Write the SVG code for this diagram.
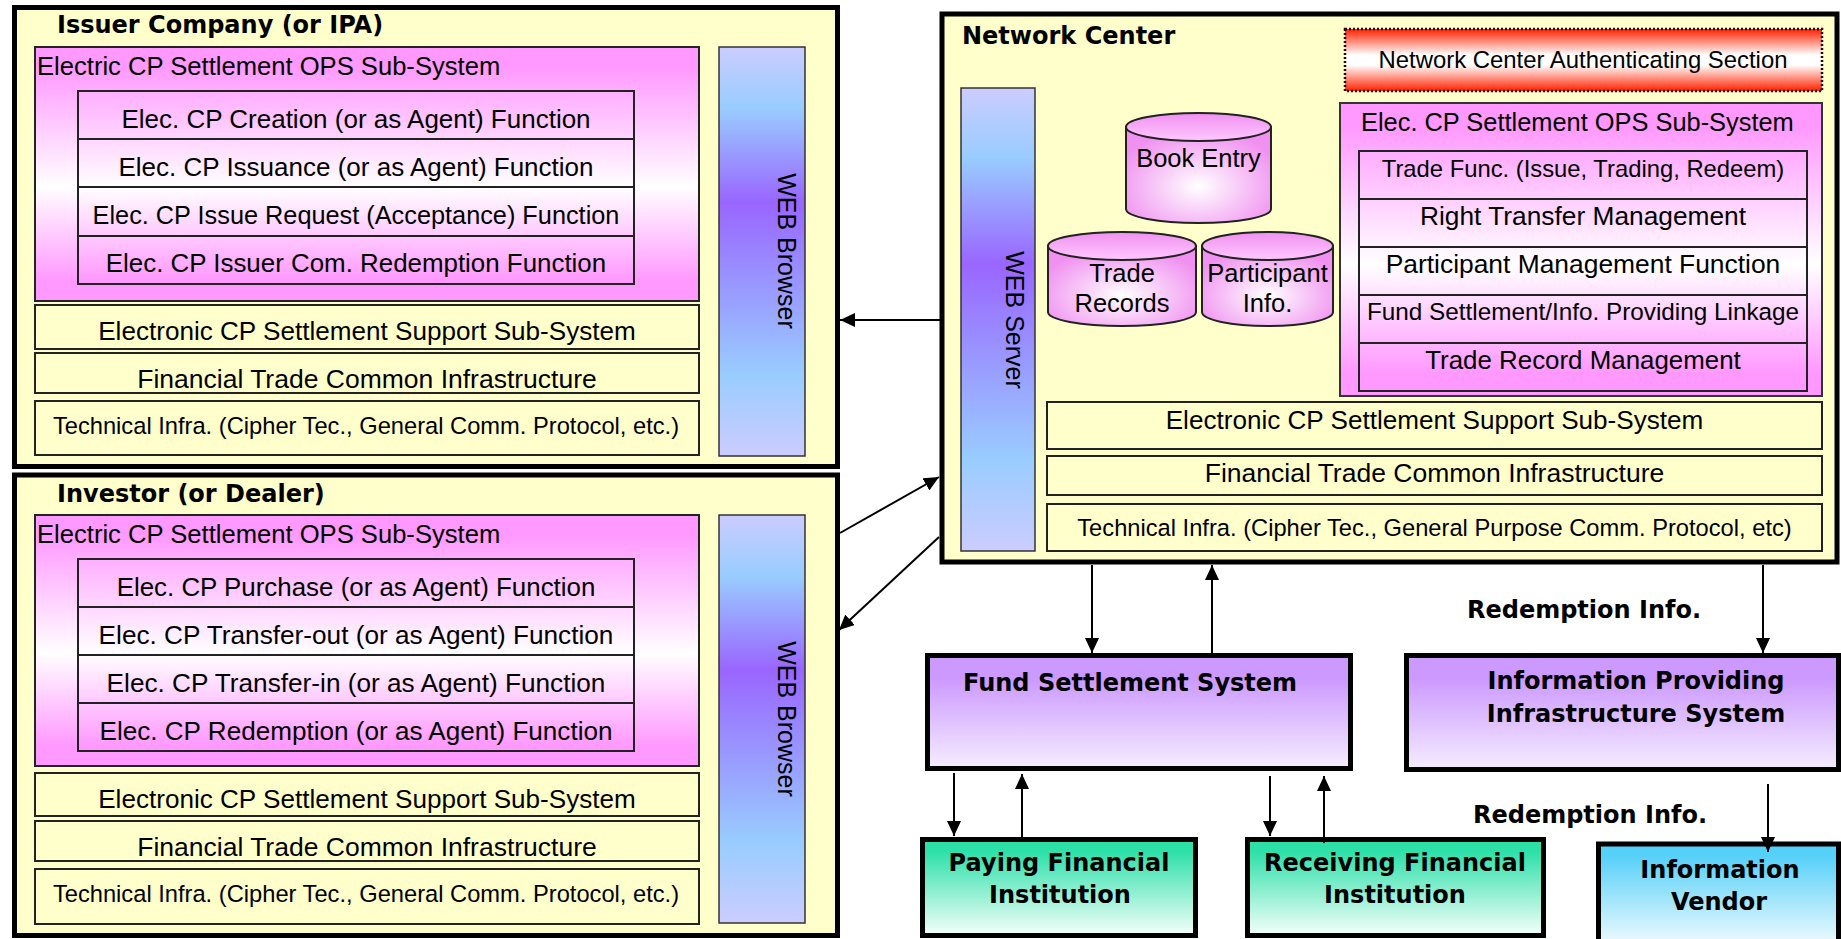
<svg xmlns="http://www.w3.org/2000/svg" width="1841" height="939" viewBox="0 0 1841 939">
<defs>
<style>
.yb{fill:#ffffcc;stroke:#000;stroke-width:5}
.ib{fill:#ffffcc;stroke:#222;stroke-width:2}
.tb{fill:none;stroke:#222;stroke-width:2}
.sep{fill:none;stroke:#222;stroke-width:2}
.t{font-family:"Liberation Sans",Arial,sans-serif;fill:#000}
.b{font-family:"DejaVu Sans","Liberation Sans",sans-serif;font-weight:bold;font-size:24px;fill:#000}
.m{text-anchor:middle}
.bar{stroke:#333;stroke-width:1.5;fill:url(#barV)}
.cyl{stroke:#222;stroke-width:2}
.bx{stroke:#000;stroke-width:5}
.cn{stroke:#000;stroke-width:2;fill:none}
</style>
<linearGradient id="pinkV" x1="0" y1="0" x2="0" y2="1">
<stop offset="0" stop-color="#ff99ff"/><stop offset="0.08" stop-color="#ff99ff"/><stop offset="0.55" stop-color="#ffffff"/><stop offset="0.92" stop-color="#ff99ff"/><stop offset="1" stop-color="#ff99ff"/>
</linearGradient>
<linearGradient id="barV" x1="0" y1="0" x2="0" y2="1">
<stop offset="0" stop-color="#ccccff"/><stop offset="0.15" stop-color="#99ccff"/><stop offset="0.38" stop-color="#9966ff"/><stop offset="0.8" stop-color="#99ccff"/><stop offset="1" stop-color="#ccccff"/>
</linearGradient>
<linearGradient id="redV" x1="0" y1="0" x2="0" y2="1">
<stop offset="0" stop-color="#ff2200"/><stop offset="0.42" stop-color="#ffffff"/><stop offset="0.58" stop-color="#ffffff"/><stop offset="1" stop-color="#ff2200"/>
</linearGradient>
<linearGradient id="purV" x1="0" y1="0" x2="0" y2="1">
<stop offset="0" stop-color="#cc99ff"/><stop offset="0.2" stop-color="#cc99ff"/><stop offset="1" stop-color="#f5edff"/>
</linearGradient>
<linearGradient id="grnV" x1="0" y1="0" x2="0" y2="1">
<stop offset="0" stop-color="#2de0a8"/><stop offset="0.12" stop-color="#2de0a8"/><stop offset="1" stop-color="#f5fffb"/>
</linearGradient>
<linearGradient id="bluV" x1="0" y1="0" x2="0" y2="1">
<stop offset="0" stop-color="#55d0f8"/><stop offset="0.1" stop-color="#55d0f8"/><stop offset="1" stop-color="#ffffff"/>
</linearGradient>
<radialGradient id="cylR" cx="0.5" cy="0.62" r="0.6">
<stop offset="0" stop-color="#ffffff"/><stop offset="1" stop-color="#f090f0"/>
</radialGradient>
<linearGradient id="cylTop" x1="0" y1="0" x2="0" y2="1">
<stop offset="0" stop-color="#f090f0"/><stop offset="1" stop-color="#ffc8ff"/>
</linearGradient>
<marker id="ah" markerWidth="15" markerHeight="14" refX="15" refY="7" orient="auto" markerUnits="userSpaceOnUse">
<path d="M0,0 L15,7 L0,14 Z" fill="#000"/>
</marker>
</defs>
<rect width="1841" height="939" fill="#ffffff"/>

<g id="issuer">
<rect class="yb" x="14.5" y="7.5" width="823" height="459"/>
<text class="b" x="57" y="33">Issuer Company (or IPA)</text>
<g id="issuer-ops">
<rect x="35" y="47" width="664" height="254" fill="url(#pinkV)" stroke="#222" stroke-width="2"/>
<text class="t" x="37" y="75" font-size="25.6">Electric CP Settlement OPS Sub-System</text>
<rect class="tb" x="78" y="91" width="556" height="193"/>
<path class="sep" d="M78 139H634M78 187H634M78 236H634"/>
<text class="t m" x="356" y="128" font-size="26">Elec. CP Creation (or as Agent) Function</text>
<text class="t m" x="356" y="176" font-size="26">Elec. CP Issuance (or as Agent) Function</text>
<text class="t m" x="356" y="224" font-size="25.3">Elec. CP Issue Request (Acceptance) Function</text>
<text class="t m" x="356" y="272" font-size="25.9">Elec. CP Issuer Com. Redemption Function</text>
</g>
<rect class="ib" x="35" y="305" width="664" height="44"/>
<text class="t m" x="367" y="340" font-size="26.1">Electronic CP Settlement Support Sub-System</text>
<rect class="ib" x="35" y="353" width="664" height="40"/>
<text class="t m" x="367" y="388" font-size="26.5">Financial Trade Common Infrastructure</text>
<rect class="ib" x="35" y="401" width="664" height="54"/>
<text class="t m" x="366" y="434" font-size="23.7">Technical Infra. (Cipher Tec., General Comm. Protocol, etc.)</text>
<rect class="bar" x="719" y="47" width="86" height="409"/>
<text class="t m" font-size="25" transform="translate(777.5,251) rotate(90)">WEB Browser</text>
</g>

<g id="investor">
<rect class="yb" x="14.5" y="475" width="823" height="460.5"/>
<text class="b" x="57" y="502">Investor (or Dealer)</text>
<g id="investor-ops">
<rect x="35" y="515" width="664" height="251" fill="url(#pinkV)" stroke="#222" stroke-width="2"/>
<text class="t" x="37" y="542.5" font-size="25.6">Electric CP Settlement OPS Sub-System</text>
<rect class="tb" x="78" y="559" width="556" height="192"/>
<path class="sep" d="M78 607H634M78 655H634M78 703H634"/>
<text class="t m" x="356" y="596" font-size="25.9">Elec. CP Purchase (or as Agent) Function</text>
<text class="t m" x="356" y="644" font-size="26.2">Elec. CP Transfer-out (or as Agent) Function</text>
<text class="t m" x="356" y="692" font-size="26.2">Elec. CP Transfer-in (or as Agent) Function</text>
<text class="t m" x="356" y="740" font-size="26.1">Elec. CP Redemption (or as Agent) Function</text>
</g>
<rect class="ib" x="35" y="773" width="664" height="43"/>
<text class="t m" x="367" y="808" font-size="26.1">Electronic CP Settlement Support Sub-System</text>
<rect class="ib" x="35" y="821" width="664" height="40"/>
<text class="t m" x="367" y="856" font-size="26.5">Financial Trade Common Infrastructure</text>
<rect class="ib" x="35" y="869" width="664" height="55"/>
<text class="t m" x="366" y="902" font-size="23.7">Technical Infra. (Cipher Tec., General Comm. Protocol, etc.)</text>
<rect class="bar" x="719" y="515" width="86" height="408"/>
<text class="t m" font-size="25" transform="translate(777.5,719) rotate(90)">WEB Browser</text>
</g>

<g id="network-center">
<rect class="yb" x="942" y="14" width="895" height="548" stroke-width="6"/>
<text class="b" x="962" y="44">Network Center</text>
<g id="nc-auth">
<rect x="1345" y="29" width="477" height="62" fill="url(#redV)" stroke="#300" stroke-width="2.5" stroke-dasharray="2 2"/>
<text class="t m" x="1583" y="68" font-size="23.9">Network Center Authenticating Section</text>
</g>
<g id="nc-web-server">
<rect class="bar" x="961" y="88" width="74" height="463"/>
<text class="t m" font-size="25" transform="translate(1005.5,320) rotate(90)">WEB Server</text>
</g>
<g id="db-book-entry">
<path class="cyl" fill="url(#cylR)" d="M1126 127V209A72.5 14 0 0 0 1271 209V127Z"/>
<ellipse class="cyl" fill="url(#cylTop)" cx="1198.5" cy="127" rx="72.5" ry="14"/>
<text class="t m" x="1198.5" y="167" font-size="25.5">Book Entry</text>
</g>
<g id="db-trade-records">
<path class="cyl" fill="url(#cylR)" d="M1048 246V312A74 14 0 0 0 1196 312V246Z"/>
<ellipse class="cyl" fill="url(#cylTop)" cx="1122" cy="246" rx="74" ry="14"/>
<text class="t m" x="1122" y="282" font-size="25.5">Trade</text>
<text class="t m" x="1122" y="312" font-size="25.5">Records</text>
</g>
<g id="db-participant">
<path class="cyl" fill="url(#cylR)" d="M1202 246V312A65.5 14 0 0 0 1333 312V246Z"/>
<ellipse class="cyl" fill="url(#cylTop)" cx="1267.5" cy="246" rx="65.5" ry="14"/>
<text class="t m" x="1267.5" y="282" font-size="25.5">Participant</text>
<text class="t m" x="1267.5" y="312" font-size="25.5">Info.</text>
</g>
<g id="nc-ops">
<rect x="1340" y="103" width="482" height="293" fill="url(#pinkV)" stroke="#333" stroke-width="2"/>
<text class="t" x="1361" y="131" font-size="25.4">Elec. CP Settlement OPS Sub-System</text>
<rect class="tb" x="1359" y="151" width="448" height="240"/>
<path class="sep" d="M1359 199H1807M1359 247H1807M1359 295H1807M1359 343H1807"/>
<text class="t m" x="1583" y="177" font-size="23.8">Trade Func. (Issue, Trading, Redeem)</text>
<text class="t m" x="1583" y="225" font-size="26.3">Right Transfer Management</text>
<text class="t m" x="1583" y="273" font-size="26.4">Participant Management Function</text>
<text class="t m" x="1583" y="320" font-size="24.3">Fund Settlement/Info. Providing Linkage</text>
<text class="t m" x="1583" y="369" font-size="25.9">Trade Record Management</text>
</g>
<rect class="ib" x="1047" y="402" width="775" height="47"/>
<text class="t m" x="1434.5" y="429" font-size="26.1">Electronic CP Settlement Support Sub-System</text>
<rect class="ib" x="1047" y="456" width="775" height="39"/>
<text class="t m" x="1434.5" y="482" font-size="26.5">Financial Trade Common Infrastructure</text>
<rect class="ib" x="1047" y="504" width="775" height="47"/>
<text class="t m" x="1434.5" y="536" font-size="23.7">Technical Infra. (Cipher Tec., General Purpose Comm. Protocol, etc)</text>
</g>

<g id="fund-settlement">
<rect class="bx" x="927.5" y="655.5" width="423" height="113" fill="url(#purV)"/>
<text class="b" x="963" y="691">Fund Settlement System</text>
</g>
<g id="info-providing">
<rect class="bx" x="1406.5" y="655.5" width="432" height="114" fill="url(#purV)"/>
<text class="b m" x="1636" y="689">Information Providing</text>
<text class="b m" x="1636" y="722">Infrastructure System</text>
</g>
<g id="paying-fi">
<rect class="bx" x="922.5" y="839.5" width="273" height="96" fill="url(#grnV)"/>
<text class="b m" x="1059" y="871">Paying Financial</text>
<text class="b m" x="1060" y="903">Institution</text>
</g>
<g id="receiving-fi">
<rect class="bx" x="1247.5" y="839.5" width="296" height="96" fill="url(#grnV)"/>
<text class="b m" x="1395" y="871">Receiving Financial</text>
<text class="b m" x="1395" y="903">Institution</text>
</g>
<g id="info-vendor">
<rect class="bx" x="1598.5" y="844" width="240" height="110" fill="url(#bluV)"/>
<text class="b m" x="1720" y="878">Information</text>
<text class="b m" x="1719" y="910">Vendor</text>
</g>

<g id="connectors">
<line class="cn" x1="941" y1="320" x2="840" y2="320" marker-end="url(#ah)"/>
<line class="cn" x1="840" y1="533" x2="939" y2="477" marker-end="url(#ah)"/>
<line class="cn" x1="939" y1="537" x2="839" y2="630" marker-end="url(#ah)"/>
<line class="cn" x1="1092" y1="565" x2="1092" y2="653" marker-end="url(#ah)"/>
<line class="cn" x1="1212" y1="653" x2="1212" y2="565" marker-end="url(#ah)"/>
<line class="cn" x1="1763" y1="565" x2="1763" y2="653" marker-end="url(#ah)"/>
<line class="cn" x1="954" y1="773" x2="954" y2="836" marker-end="url(#ah)"/>
<line class="cn" x1="1022" y1="837" x2="1022" y2="774" marker-end="url(#ah)"/>
<line class="cn" x1="1270" y1="776" x2="1270" y2="836" marker-end="url(#ah)"/>
<line class="cn" x1="1324" y1="843" x2="1324" y2="776" marker-end="url(#ah)"/>
<line class="cn" x1="1768" y1="784" x2="1768" y2="852" marker-end="url(#ah)"/>
<text class="b m" x="1584" y="618">Redemption Info.</text>
<text class="b m" x="1590" y="823">Redemption Info.</text>
</g>
</svg>
